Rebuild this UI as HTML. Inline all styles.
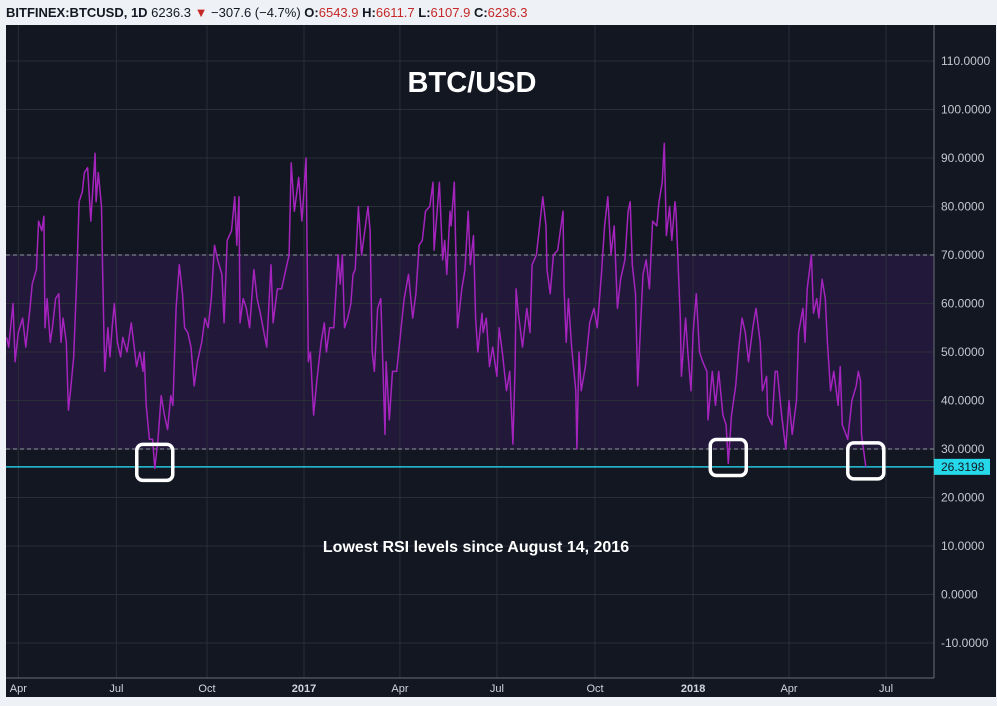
<!DOCTYPE html>
<html><head><meta charset="utf-8"><style>
body{margin:0;width:997px;height:706px;background:#eef1f5;overflow:hidden;font-family:"Liberation Sans",sans-serif;font-variant-ligatures:none}
#hdr{position:absolute;left:6px;top:5px;font-size:13px;color:#131722;white-space:nowrap;font-variant-ligatures:none;font-feature-settings:"liga" 0}
#hdr b{font-weight:bold}
.r{color:#c62828}
svg{position:absolute;left:0;top:0}
</style></head><body>
<div id="hdr"><b>BITFINEX:BTCUSD, 1D</b> 6236.3 <span class="r">▼</span> −307.6 (−4.7%) <b>O:</b><span class="r">6543.9</span> <b>H:</b><span class="r">6611.7</span> <b>L:</b><span class="r">6107.9</span> <b>C:</b><span class="r">6236.3</span></div>
<svg id="chart" width="997" height="706"></svg>
<script>
const startDay = 87; // days since 2016-01-01 of first sample
const dayOffsets = [0,2,6,8,11,15,18,22,24,28,30,33,35,36,38,41,43,46,49,51,53,56,58,60,63,66,68,71,73,76,79,83,84,86,89,90,92,95,97,99,101,104,107,109,113,117,122,125,128,129,131,134,137,139,142,145,148,151,154,156,159,160,162,165,167,170,173,176,179,183,186,189,192,195,198,202,204,207,211,214,216,218,219,222,225,228,232,235,238,244,248,250,254,258,263,265,267,270,274,277,281,283,285,288,291,295,298,300,303,307,310,311,313,315,317,320,323,325,327,330,333,336,339,341,343,345,348,351,355,356,359,362,366,371,373,377,381,384,387,390,393,397,400,401,406,409,411,413,416,417,420,423,427,430,433,435,438,440,442,446,447,450,453,456,460,462,465,469,472,475,477,478,480,484,488,491,493,497,500,503,506,507,510,513,517,522,523,525,527,530,534,535,537,539,543,547,551,554,558,561,564,567,570,573,576,580,583,585,587,590,592,597,600,603,606,610,612,615,617,619,622,624,627,628,632,633,637,639,642,644,647,650,653,657,658,662,665,668,672,675,677,680,684,687,690,693,696,700,703,707,709,713,714,718,721,723,727,731,734,737,741,743,747,749,751,755,757,760,762,765,768,770,773,776,780,782,784,789,793,797,799,801,802,806];
const rsiValues = [53,51,60,48,54,57,51,59,64,67,77,75,78,55,61,52,55,61,62,52,57,52,38,42,49,66,81,83,87,88,77,91,81,87,80,68,46,55,49,55,60,52,49,53,50,56,47,50,46,50,39,32,32,26,32,41,37,34,41,39,59,62,68,62,55,54,51,43,48,52,57,55,61,72,69,66,56,73,75,82,72,82,56,61,59,55,67,61,58,51,68,56,63,63,68,70,89,79,86,77,90,48,50,37,44,52,56,50,55,55,66,70,64,70,55,57,60,66,67,80,70,75,80,75,50,46,59,61,33,48,36,46,46,57,61,66,57,62,72,73,79,80,85,71,85,69,73,66,79,76,85,55,63,67,79,68,74,57,50,58,54,57,47,51,45,55,50,42,46,31,47,63,58,51,59,54,68,70,76,82,76,67,62,70,71,79,63,52,61,51,42,30,50,42,47,56,59,55,66,76,82,70,76,59,65,69,79,81,68,62,43,66,69,63,77,76,81,85,93,74,80,73,81,79,57,45,57,50,42,54,62,50,48,46,36,46,39,46,37,35,27,37,43,51,57,54,48,55,59,52,42,45,37,35,46,46,37,30,40,33,40,54,59,52,63,70,58,61,57,65,61,52,42,46,39,47,35,32,40,43,46,44,33,26.3198];
const yTicks = [110,100,90,80,70,60,50,40,30,20,10,0,-10];
const xTickDays = [98,190,275,366,456,547,639,731,821,912];
const xTickLabels = ["Apr","Jul","Oct","2017","Apr","Jul","Oct","2018","Apr","Jul"];
const lowMarkWindows = [[210,240],[750,780],[880,900]]; // day ranges (since 2016-01-01) of highlighted lows
const lastValue = 26.3198;

const NS="http://www.w3.org/2000/svg";
const svg=document.getElementById('chart');
const L=6,R=934,T=25,B=678;
const N=Math.min(dayOffsets.length,rsiValues.length);
const xS=d=>304+(d-366)*1.066;
const yS=v=>255+(70-v)*4.85;
function mk(t,a,p){const e=document.createElementNS(NS,t);for(const k in a)e.setAttribute(k,a[k]);(p||svg).appendChild(e);return e;}

let e=mk('rect',{x:L,y:T,width:990,height:672,fill:'#131722'});

e=mk('rect',{x:L,y:yS(70),width:R-L,height:yS(30)-yS(70),fill:'#21183a'});

yTicks.forEach(v=>{
  const g=mk('line',{x1:L,x2:R,y1:yS(v),y2:yS(v),stroke:'#2a2e39','stroke-width':1});
  
  const t=mk('text',{x:941,y:yS(v)+4,fill:'#c4c7cf','font-size':12});
  t.textContent=v.toFixed(4);
  
});
xTickDays.forEach((d,i)=>{
  const g=mk('line',{x1:xS(d),x2:xS(d),y1:T,y2:B,stroke:'#2a2e39','stroke-width':1});
  
  const t=mk('text',{x:xS(d),y:692,fill:'#d1d4dc','font-size':11,'text-anchor':'middle','font-weight':/^\d/.test(xTickLabels[i])?'bold':'normal'});
  t.textContent=xTickLabels[i];
  
});
[70,30].forEach(v=>{
  const g=mk('line',{x1:L,x2:R,y1:yS(v),y2:yS(v),stroke:'#9598a1','stroke-width':1,'stroke-dasharray':'4,3'});
  
});
e=mk('line',{x1:R,x2:R,y1:T,y2:B,stroke:'#6a6d78'});

e=mk('line',{x1:L,x2:R,y1:B,y2:B,stroke:'#6a6d78'});

e=mk('line',{x1:L,x2:R,y1:yS(lastValue),y2:yS(lastValue),stroke:'#26c6da','stroke-width':1.5});

let pts=[];
for(let i=0;i<N;i++)pts.push(xS(startDay+dayOffsets[i]).toFixed(1)+','+yS(rsiValues[i]).toFixed(1));
e=mk('polyline',{points:pts.join(' '),fill:'none',stroke:'#a424bd','stroke-width':1.5,'stroke-linejoin':'round'});

lowMarkWindows.forEach(w=>{
  let best=-1;
  for(let i=0;i<N;i++){const d=startDay+dayOffsets[i];if(d>=w[0]&&d<=w[1]&&(best<0||rsiValues[i]<rsiValues[best]))best=i;}
  if(best<0)return;
  const cx=xS(startDay+dayOffsets[best]),cy=yS(rsiValues[best])-6;
  const r=mk('rect',{x:cx-18,y:cy-18,width:36,height:36,rx:6,fill:'none',stroke:'#ffffff','stroke-width':3.5});
  
});
e=mk('rect',{x:R,y:yS(lastValue)-8,width:56,height:16,fill:'#26d9ea'});

e=mk('text',{x:941,y:yS(lastValue)+4,fill:'#131722','font-size':12});
e.textContent=lastValue.toFixed(4);

e=mk('text',{x:472,y:92,fill:'#ffffff','font-size':29,'font-weight':'bold','text-anchor':'middle'});
e.textContent='BTC/USD';

e=mk('text',{x:476,y:552,fill:'#ffffff','font-size':16,'font-weight':'bold','text-anchor':'middle'});
e.textContent='Lowest RSI levels since August 14, 2016';

</script>
</body></html>
